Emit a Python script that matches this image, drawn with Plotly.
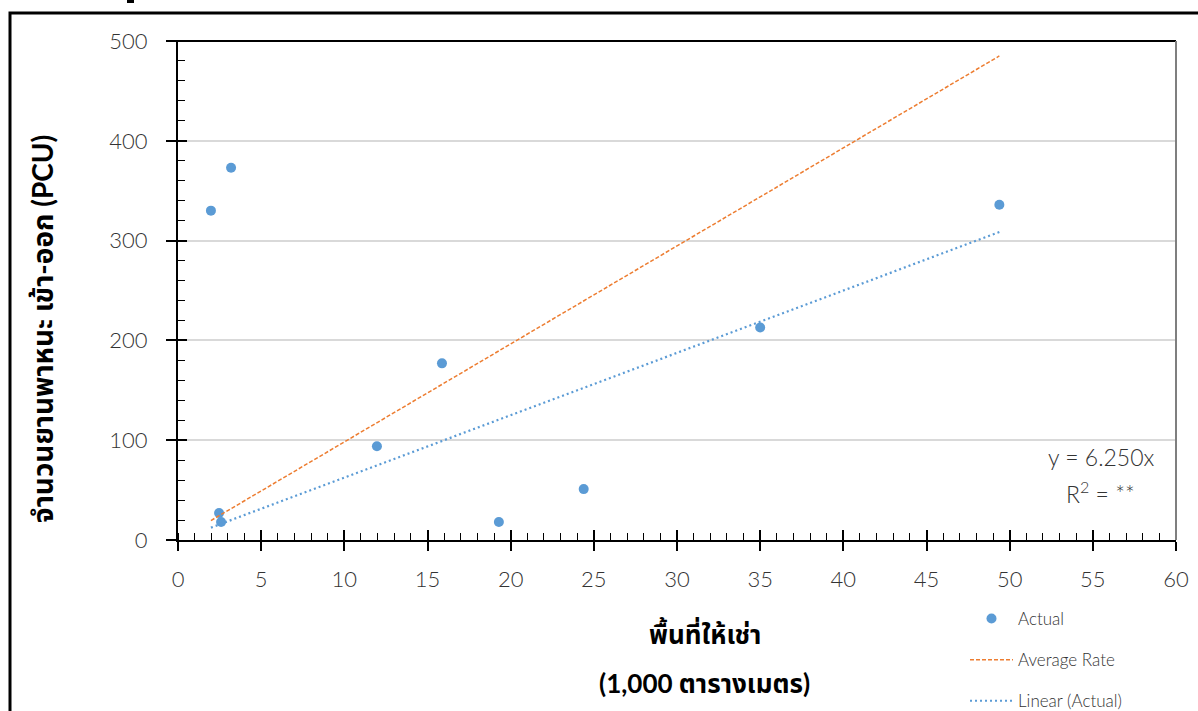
import plotly.graph_objects as go

# Data
area_x = [1.98, 3.19, 2.47, 2.59, 11.96, 15.87, 19.29, 24.39, 35.0, 49.38]
pcu_y = [330, 373, 27, 18, 94, 177, 18, 51, 213, 336]

avg_rate_x = [1.98, 49.38]
avg_rate_y = [19.5, 485]

linear_x = [1.98, 49.38]
linear_y = [12.4, 308.6]

x_ticks = [0, 5, 10, 15, 20, 25, 30, 35, 40, 45, 50, 55, 60]
y_ticks = [0, 100, 200, 300, 400, 500]

BLUE = "#5B9BD5"
ORANGE = "#ED7D31"
TXT = "#333333"
FONT = "Lato, 'Noto Sans Thai', 'Noto Sans', sans-serif"

W, H = 1198, 711
L, R, T, B = 178, 22, 41, 171
PW, PH = W - L - R, H - T - B


def px(xp):
    return (xp - L) / PW


def py(yp):
    return (H - B - yp) / PH


fig = go.Figure()
fig.add_trace(go.Scatter(x=area_x, y=pcu_y, mode="markers", name="Actual",
                         marker=dict(color=BLUE, size=10), legendgroup="a"))
fig.add_trace(go.Scatter(x=avg_rate_x, y=avg_rate_y, mode="lines", name="Average Rate",
                         line=dict(color=ORANGE, width=1.5, dash="4px,2px"), legendgroup="b"))
fig.add_trace(go.Scatter(x=linear_x, y=linear_y, mode="lines", name="Linear (Actual)",
                         line=dict(color=BLUE, width=2.2, dash="2px,3px"), legendgroup="c"))
# invisible trace for overlay axes (inside part of crossing major ticks)
fig.add_trace(go.Scatter(x=[None], y=[None], xaxis="x2", yaxis="y2", showlegend=False,
                         hoverinfo="skip"))

tick_font = dict(family=FONT, size=22, color=TXT, weight=300)
axis_common = dict(showline=True, linecolor="black", linewidth=2, zeroline=False,
                   tickcolor="black", tickwidth=1.5, tickfont=tick_font)

fig.update_layout(
    width=W, height=H,
    margin=dict(l=L, r=R, t=T, b=B, autoexpand=False),
    paper_bgcolor="white", plot_bgcolor="white",
    font=dict(family=FONT, color=TXT),
    showlegend=True,
    legend=dict(x=px(965), y=py(601), xanchor="left", yanchor="top",
                font=dict(family=FONT, size=17, color=TXT, weight=300),
                tracegroupgap=16, bgcolor="rgba(0,0,0,0)", itemwidth=43),
    xaxis=dict(range=[0, 60], tickvals=x_ticks, ticks="outside", ticklen=9,
               showgrid=False, ticklabelstandoff=10,
               minor=dict(dtick=1, ticks="inside", ticklen=7, tickcolor="black", tickwidth=1.2),
               **axis_common),
    yaxis=dict(range=[0, 500], tickvals=y_ticks, ticks="outside", ticklen=10,
               showgrid=True, gridcolor="#D9D9D9", gridwidth=1.5, ticklabelstandoff=14,
               minor=dict(dtick=20, ticks="inside", ticklen=7, tickcolor="black", tickwidth=1.2),
               **axis_common),
    xaxis2=dict(overlaying="x", matches="x", range=[0, 60], tickvals=x_ticks, ticks="inside",
                ticklen=10, tickcolor="black", tickwidth=1.5, showticklabels=False,
                showgrid=False, zeroline=False, showline=False, side="bottom"),
    yaxis2=dict(overlaying="y", matches="y", range=[0, 500], tickvals=y_ticks, ticks="inside",
                ticklen=9, tickcolor="black", tickwidth=1.5, showticklabels=False,
                showgrid=False, zeroline=False, showline=False, side="left"),
)

shapes = [
    # outer chart frame (extends beyond the visible crop)
    dict(type="rect", xref="paper", yref="paper", x0=px(10), x1=px(1260), y0=py(800), y1=py(13),
         line=dict(color="black", width=3), fillcolor="rgba(0,0,0,0)", layer="above"),
    dict(type="rect", xref="paper", yref="paper", x0=px(127), x1=px(134), y0=py(3), y1=py(-2),
         line=dict(width=0), fillcolor="black"),
    # plot area border top and right
    dict(type="line", xref="paper", yref="paper", x0=px(168), x1=1, y0=1, y1=1,
         line=dict(color="black", width=2)),
    dict(type="line", xref="paper", yref="paper", x0=1, x1=1, y0=0, y1=1,
         line=dict(color="#7F7F7F", width=2)),
]
fig.update_layout(shapes=shapes)

ann_common = dict(xref="paper", yref="paper", showarrow=False, xanchor="center", yanchor="middle")
annotations = [
    dict(text="จำนวนยานพาหนะ เข้า-ออก (PCU)", x=px(42), y=py(329), textangle=-90,
         font=dict(family=FONT, size=28, color="black", weight="bold"), **ann_common),
    dict(text="พื้นที่ให้เช่า", x=px(705), y=py(633),
         font=dict(family=FONT, size=26, color="black", weight="bold"), **ann_common),
    dict(text="(1,000 ตารางเมตร)", x=px(704), y=py(683),
         font=dict(family=FONT, size=26, color="black", weight="bold"), **ann_common),
    dict(text="y = 6.250x", x=px(1101), y=py(457),
         font=dict(family=FONT, size=23, color=TXT, weight=300), **ann_common),
    dict(text="R<sup>2</sup> = **", x=px(1100), y=py(492),
         font=dict(family=FONT, size=23, color=TXT, weight=300), **ann_common),
]
fig.update_layout(annotations=annotations)

fig.write_html("out.html", config={"displayModeBar": False},
               post_script="document.body.style.margin='0';")
